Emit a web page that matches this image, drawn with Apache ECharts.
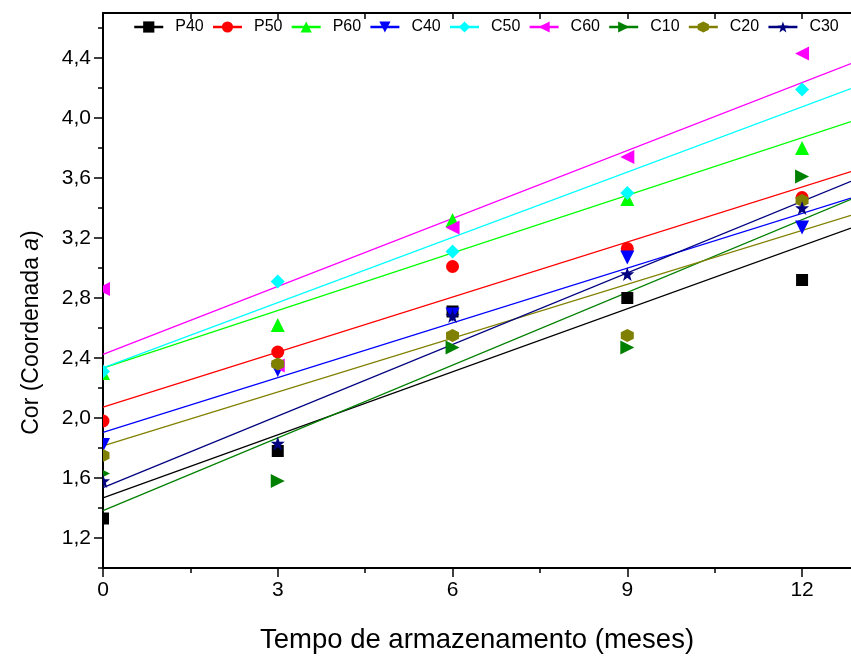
<!DOCTYPE html>
<html><head><meta charset="utf-8">
<script src="https://cdn.jsdelivr.net/npm/echarts@6/dist/echarts.min.js"></script>
<style>html,body{margin:0;padding:0;background:#fff}#c{width:851px;height:656px}</style>
</head><body><div id="c"></div>
<script>
// ---- data ----
const months = [0, 3, 6, 9, 12];
const seriesNames = ['P40', 'P50', 'P60', 'C40', 'C50', 'C60', 'C10', 'C20', 'C30'];
const P40 = [1.33, 1.78, 2.71, 2.80, 2.92];
const P50 = [1.98, 2.44, 3.01, 3.13, 3.47];
const P60 = [2.30, 2.62, 3.32, 3.46, 3.80];
const C40 = [1.82, 2.32, 2.69, 3.07, 3.27];
const C50 = [2.31, 2.91, 3.11, 3.50, 4.19];
const C60 = [2.86, 2.35, 3.27, 3.74, 4.43];
const C10 = [1.63, 1.58, 2.47, 2.47, 3.61];
const C20 = [1.75, 2.36, 2.55, 2.55, 3.45];
const C30 = [1.58, 1.83, 2.68, 2.96, 3.40];
const xTickLabels = [0, 3, 6, 9, 12];
const xMinorTicks = [1.5, 4.5, 7.5, 10.5];
const xTopTicks = [0, 1.5, 3, 4.5, 6, 7.5, 9, 10.5, 12];
const yTickLabels = [1.2, 1.6, 2.0, 2.4, 2.8, 3.2, 3.6, 4.0, 4.4];
const yMinorTicks = [1.0, 1.4, 1.8, 2.2, 2.6, 3.0, 3.4, 3.8, 4.2, 4.6];

// ---- styling ----
const values = {P40, P50, P60, C40, C50, C60, C10, C20, C30};
const colors = {P40:'#000000', P50:'#FF0000', P60:'#00FF00', C40:'#0000FF', C50:'#00FFFF',
                C60:'#FF00FF', C10:'#008000', C20:'#808000', C30:'#000080'};
const shapes = {
  P40: 'path://M0,0L10,0L10,10L0,10Z',
  P50: 'circle',
  P60: 'path://M5,0L10,9L0,9Z',
  C40: 'path://M0,0L10,0L5,9Z',
  C50: 'path://M5,0L10,5L5,10L0,5Z',
  C60: 'path://M9,0L9,10L0,5Z',
  C10: 'path://M0,0L0,10L9,5Z',
  C20: 'path://M5,0L9.3,2.5L9.3,7.5L5,10L0.7,7.5L0.7,2.5Z',
  C30: 'path://M5,0L6.18,3.38L9.76,3.45L6.9,5.62L7.94,9.05L5,7L2.06,9.05L3.1,5.62L0.24,3.45L3.82,3.38Z'
};
const sizes = {P40:12, P50:13, P60:14, C40:14, C50:14, C60:14, C10:14, C20:13, C30:14};
const X_MAX = 12.84, Y_MIN = 1.0, Y_MAX = 4.7;
const FONT = 'Liberation Sans, Arial, sans-serif';

function fit(xs, ys) {
  const n = xs.length;
  const mx = xs.reduce((a, b) => a + b, 0) / n;
  const my = ys.reduce((a, b) => a + b, 0) / n;
  let sxy = 0, sxx = 0;
  for (let i = 0; i < n; i++) { sxy += (xs[i] - mx) * (ys[i] - my); sxx += (xs[i] - mx) ** 2; }
  const m = sxy / sxx;
  return {m, b: my - m * mx};
}

function markerRenderer(name) {
  const color = colors[name], shape = shapes[name], s = sizes[name];
  return function (params, api) {
    const p = api.coord([api.value(0), api.value(1)]);
    if (shape === 'circle') {
      return {type: 'circle', shape: {cx: p[0], cy: p[1], r: s / 2}, style: {fill: color}};
    }
    return {type: 'path', shape: {pathData: shape.replace('path://', ''), x: p[0] - s / 2, y: p[1] - s / 2,
            width: s, height: s, layout: 'cover'}, style: {fill: color}};
  };
}

const series = [];
seriesNames.forEach(name => {
  const f = fit(months, values[name]);
  series.push({
    name, type: 'line', xAxisIndex: 0, yAxisIndex: 0,
    data: [[0, f.b], [X_MAX, f.b + f.m * X_MAX]],
    showSymbol: false, symbol: shapes[name], symbolSize: 12,
    itemStyle: {color: colors[name]},
    lineStyle: {color: colors[name], width: 1.3},
    silent: true, clip: true, z: 2
  });
});
seriesNames.forEach(name => {
  series.push({
    name, type: 'custom', xAxisIndex: 0, yAxisIndex: 0,
    data: months.map((m, i) => [m, values[name][i]]),
    renderItem: markerRenderer(name),
    itemStyle: {color: colors[name]},
    clip: true, z: 3, silent: true
  });
});

const commaFmt = v => Number(v).toFixed(1).replace('.', ',');

const option = {
  animation: false,
  backgroundColor: '#fff',
  textStyle: {fontFamily: FONT},
  grid: {left: 103, right: 0, top: 13, bottom: 88, containLabel: false, outerBoundsMode: 'none'},
  legend: {
    data: seriesNames.map(n => ({name: n})),
    left: 133, top: 19, width: 718, padding: 0, orient: 'horizontal',
    itemWidth: 29, itemHeight: 14, itemGap: 8,
    lineStyle: {width: 2.5, opacity: 1},
    textStyle: {fontSize: 16, color: '#000', fontFamily: FONT, padding: [0, 0, 0, 7]},
    selectedMode: false
  },
  xAxis: [
    {
      type: 'value', min: 0, max: X_MAX, position: 'bottom',
      axisLine: {show: true, lineStyle: {color: '#000', width: 2}},
      axisTick: {show: true, customValues: xTickLabels, length: 9, lineStyle: {color: '#000', width: 1.5}},
      axisLabel: {customValues: xTickLabels, fontSize: 21, color: '#000', margin: 12, fontFamily: FONT},
      splitLine: {show: false},
      name: 'Tempo de armazenamento (meses)', nameLocation: 'middle', nameGap: 58,
      nameTextStyle: {fontSize: 27.5, color: '#000', fontFamily: FONT}
    },
    {
      type: 'value', min: 0, max: X_MAX, position: 'bottom',
      axisLine: {show: false},
      axisTick: {show: true, customValues: xMinorTicks, length: 5, lineStyle: {color: '#000', width: 1.5}},
      axisLabel: {show: false}, splitLine: {show: false}
    },
    {
      type: 'value', min: 0, max: X_MAX, position: 'top',
      axisLine: {show: true, lineStyle: {color: '#000', width: 2}},
      axisTick: {show: true, inside: true, customValues: xTopTicks, length: 6, lineStyle: {color: '#000', width: 1.5}},
      axisLabel: {show: false}, splitLine: {show: false}
    }
  ],
  yAxis: [
    {
      type: 'value', min: Y_MIN, max: Y_MAX, position: 'left',
      axisLine: {show: true, lineStyle: {color: '#000', width: 2}},
      axisTick: {show: true, customValues: yTickLabels, length: 9, lineStyle: {color: '#000', width: 1.5}},
      axisLabel: {customValues: yTickLabels, formatter: commaFmt, fontSize: 21, color: '#000', margin: 12, fontFamily: FONT},
      splitLine: {show: false},
      name: '{n|Cor (Coordenada }{i|a}{n|)}', nameLocation: 'middle', nameGap: 60,
      nameTextStyle: {
        fontFamily: FONT, color: '#000', padding: [0, 84, 0, 0],
        rich: {n: {fontSize: 23, fontFamily: FONT, color: '#000'}, i: {fontSize: 23, fontStyle: 'italic', fontFamily: FONT, color: '#000'}}
      }
    },
    {
      type: 'value', min: Y_MIN, max: Y_MAX, position: 'left',
      axisLine: {show: false},
      axisTick: {show: true, customValues: yMinorTicks, length: 5, lineStyle: {color: '#000', width: 1.5}},
      axisLabel: {show: false}, splitLine: {show: false}
    }
  ],
  series
};

const chart = echarts.init(document.getElementById('c'), null, {renderer: 'canvas'});
chart.setOption(option);
</script>
</body></html>
